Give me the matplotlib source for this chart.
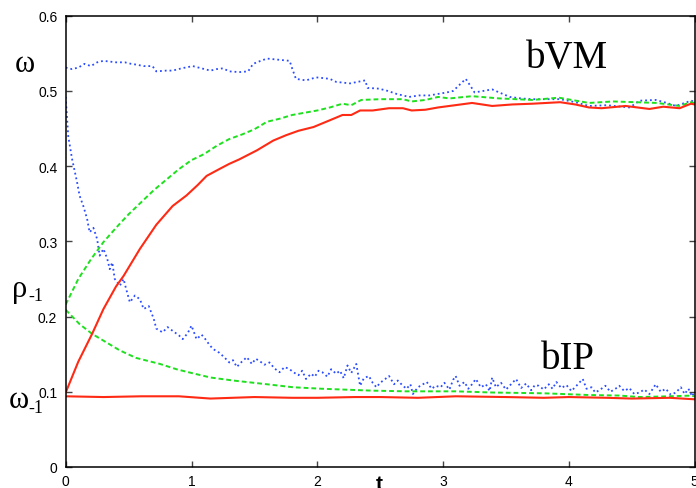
import matplotlib
matplotlib.use("Agg")
import matplotlib.pyplot as plt
import numpy as np

# bVM: omega (blue dotted), rho_-1 (green dashed), omega_-1 (red solid)
vm_w_t = [0.00, 0.05, 0.10, 0.15, 0.20, 0.25, 0.30, 0.35, 0.40, 0.47, 0.52, 0.56, 0.62, 0.69,
          0.72, 0.80, 0.85, 0.92, 1.01, 1.08, 1.15, 1.20, 1.25, 1.30, 1.38, 1.45, 1.49, 1.55,
          1.60, 1.66, 1.72, 1.78, 1.80, 1.83, 1.91, 1.99, 2.05, 2.10, 2.15, 2.26, 2.32, 2.38,
          2.40, 2.49, 2.56, 2.63, 2.73, 2.81, 2.89, 2.96, 3.03, 3.08, 3.13, 3.18, 3.22, 3.25,
          3.32, 3.39, 3.46, 3.53, 3.62, 3.71, 3.82, 3.93, 4.05, 4.16, 4.30, 4.48, 4.52, 4.56,
          4.69, 4.78, 4.85, 4.92, 4.97, 5.00]
vm_w = [0.531, 0.529, 0.531, 0.536, 0.533, 0.538, 0.540, 0.539, 0.538, 0.538, 0.536, 0.535,
        0.533, 0.533, 0.526, 0.527, 0.527, 0.530, 0.533, 0.530, 0.527, 0.529, 0.530, 0.526,
        0.525, 0.526, 0.536, 0.540, 0.543, 0.542, 0.541, 0.540, 0.530, 0.516, 0.514, 0.518,
        0.517, 0.516, 0.512, 0.510, 0.512, 0.514, 0.504, 0.503, 0.500, 0.496, 0.492, 0.494,
        0.494, 0.496, 0.498, 0.500, 0.508, 0.516, 0.506, 0.498, 0.500, 0.502, 0.497, 0.492,
        0.490, 0.489, 0.489, 0.489, 0.485, 0.480, 0.481, 0.478, 0.482, 0.487, 0.488, 0.484,
        0.480, 0.484, 0.487, 0.486]

vm_rho_t = [0.00, 0.10, 0.20, 0.30, 0.40, 0.50, 0.60, 0.70, 0.80, 0.90, 1.00, 1.10, 1.20,
            1.30, 1.40, 1.50, 1.60, 1.70, 1.80, 1.90, 2.00, 2.10, 2.20, 2.27, 2.35, 2.50,
            2.68, 2.75, 2.86, 2.96, 3.05, 3.23, 3.45, 3.71, 3.92, 4.16, 4.35, 4.53, 4.70,
            4.88, 4.97, 5.00]
vm_rho = [0.216, 0.250, 0.276, 0.299, 0.318, 0.336, 0.352, 0.368, 0.382, 0.396, 0.408,
          0.416, 0.427, 0.436, 0.442, 0.449, 0.459, 0.463, 0.468, 0.471, 0.474, 0.478,
          0.483, 0.481, 0.488, 0.489, 0.489, 0.486, 0.488, 0.492, 0.490, 0.493, 0.490,
          0.488, 0.491, 0.484, 0.486, 0.485, 0.484, 0.480, 0.485, 0.484]

vm_w1_t = [0.00, 0.10, 0.21, 0.30, 0.40, 0.46, 0.59, 0.72, 0.85, 0.96, 1.05, 1.12, 1.22,
           1.30, 1.38, 1.52, 1.65, 1.75, 1.85, 1.97, 2.10, 2.20, 2.27, 2.34, 2.44, 2.57,
           2.68, 2.75, 2.86, 2.96, 3.05, 3.23, 3.39, 3.55, 3.71, 3.93, 4.05, 4.16, 4.26,
           4.45, 4.64, 4.75, 4.88, 4.97, 5.00]
vm_w1 = [0.099, 0.140, 0.177, 0.210, 0.240, 0.254, 0.290, 0.322, 0.347, 0.361, 0.375,
         0.387, 0.396, 0.403, 0.409, 0.421, 0.434, 0.441, 0.447, 0.452, 0.461, 0.468,
         0.468, 0.474, 0.474, 0.477, 0.477, 0.474, 0.475, 0.478, 0.480, 0.484, 0.480,
         0.482, 0.483, 0.485, 0.482, 0.478, 0.477, 0.480, 0.476, 0.479, 0.477, 0.483, 0.482]

# bIP
ip_rho_t = [0.00, 0.11, 0.21, 0.30, 0.43, 0.56, 0.75, 0.88, 1.00, 1.15, 1.33, 1.60, 1.81,
            2.04, 2.44, 2.71, 3.10, 3.40, 3.80, 4.16, 4.40, 4.56, 4.80, 4.95, 5.00]
ip_rho = [0.209, 0.190, 0.177, 0.168, 0.155, 0.145, 0.137, 0.130, 0.125, 0.119, 0.115,
          0.110, 0.106, 0.104, 0.1015, 0.1006, 0.1006, 0.099, 0.098, 0.0957, 0.095, 0.093,
          0.094, 0.0948, 0.094]

ip_w1_t = [0.0, 0.3, 0.6, 0.9, 1.15, 1.5, 1.8, 2.0, 2.3, 2.5, 2.8, 3.1, 3.5, 3.8, 4.0, 4.3,
           4.5, 4.8, 5.0]
ip_w1 = [0.094, 0.093, 0.094, 0.094, 0.091, 0.093, 0.092, 0.092, 0.093, 0.093, 0.092,
         0.094, 0.093, 0.092, 0.093, 0.092, 0.091, 0.092, 0.090]

ip_w_t = [0.00, 0.02, 0.05, 0.09, 0.11, 0.14, 0.17, 0.19, 0.22, 0.25, 0.27, 0.30, 0.33,
          0.35, 0.37, 0.39, 0.43, 0.46, 0.48, 0.51, 0.55, 0.59, 0.62, 0.66, 0.70, 0.72,
          0.77, 0.81, 0.85, 0.90, 0.93, 0.97, 1.00, 1.04, 1.08, 1.11, 1.14, 1.17, 1.22,
          1.26, 1.30, 1.33, 1.36, 1.40, 1.44, 1.48, 1.51, 1.54, 1.58, 1.62, 1.66, 1.70,
          1.74, 1.78, 1.81, 1.85, 1.88, 1.91, 1.95, 1.98, 2.01, 2.04, 2.08, 2.11, 2.15,
          2.18, 2.21, 2.24, 2.27, 2.31, 2.34, 2.37, 2.41, 2.44, 2.47, 2.50, 2.54, 2.57,
          2.61, 2.64, 2.68, 2.71, 2.74, 2.76, 2.80, 2.84, 2.87, 2.91, 2.94, 2.98, 3.01,
          3.05, 3.08, 3.10, 3.13, 3.17, 3.20, 3.23, 3.26, 3.30, 3.34, 3.37, 3.39, 3.42,
          3.46, 3.50, 3.54, 3.58, 3.62, 3.66, 3.70, 3.73, 3.76, 3.80, 3.84, 3.87, 3.90,
          3.94, 3.98, 4.02, 4.06, 4.11, 4.14, 4.18, 4.21, 4.25, 4.29, 4.33, 4.37, 4.40,
          4.44, 4.48, 4.52, 4.56, 4.60, 4.64, 4.69, 4.73, 4.77, 4.81, 4.85, 4.89, 4.92,
          4.95, 4.98, 5.00]
ip_w = [0.492, 0.440, 0.410, 0.379, 0.361, 0.347, 0.330, 0.312, 0.318, 0.303, 0.281, 0.290,
        0.277, 0.263, 0.272, 0.250, 0.241, 0.250, 0.237, 0.219, 0.228, 0.223, 0.210, 0.214,
        0.197, 0.184, 0.179, 0.186, 0.181, 0.175, 0.170, 0.178, 0.188, 0.170, 0.176, 0.170,
        0.163, 0.157, 0.152, 0.146, 0.139, 0.142, 0.133, 0.140, 0.146, 0.137, 0.144, 0.141,
        0.136, 0.139, 0.131, 0.126, 0.133, 0.130, 0.126, 0.122, 0.128, 0.117, 0.124, 0.120,
        0.128, 0.126, 0.120, 0.130, 0.124, 0.128, 0.118, 0.135, 0.125, 0.137, 0.108, 0.118,
        0.121, 0.112, 0.106, 0.112, 0.117, 0.121, 0.110, 0.115, 0.108, 0.104, 0.110, 0.097,
        0.106, 0.110, 0.113, 0.104, 0.108, 0.106, 0.112, 0.103, 0.116, 0.121, 0.108, 0.113,
        0.104, 0.110, 0.117, 0.106, 0.110, 0.101, 0.119, 0.106, 0.112, 0.103, 0.110, 0.117,
        0.105, 0.111, 0.102, 0.109, 0.108, 0.103, 0.110, 0.104, 0.113, 0.105, 0.109, 0.101,
        0.108, 0.117, 0.104, 0.106, 0.099, 0.103, 0.108, 0.100, 0.104, 0.108, 0.101, 0.105,
        0.097, 0.099, 0.103, 0.097, 0.110, 0.100, 0.104, 0.096, 0.099, 0.106, 0.097, 0.104,
        0.094, 0.101]

x_ticks = [0, 1, 2, 3, 4, 5]
y_ticks = [0, 0.1, 0.2, 0.3, 0.4, 0.5, 0.6]
y_ticklabels = ["0", "0.1", "0.2", "0.3", "0.4", "0.5", "0.6"]

RED = "#ff2a14"
GREEN = "#1ee01e"
BLUE = "#2a4cff"

plt.rcParams['font.family'] = ['Liberation Sans', 'DejaVu Sans']

W, H = 696, 489
fig = plt.figure(figsize=(W / 100, H / 100), dpi=100)
ax = fig.add_axes([65.7 / W, 21 / H, 629 / W, 451.3 / H])

ax.plot(vm_w_t, vm_w, ':', color=BLUE, lw=1.3)
ax.plot(ip_w_t, ip_w, ':', color=BLUE, lw=1.3)
ax.plot(vm_rho_t, vm_rho, '--', color=GREEN, lw=1.4, dashes=(2.5, 1.5))
ax.plot(ip_rho_t, ip_rho, '--', color=GREEN, lw=1.4, dashes=(2.5, 1.5))
ax.plot(vm_w1_t, vm_w1, '-', color=RED, lw=1.5)
ax.plot(ip_w1_t, ip_w1, '-', color=RED, lw=1.5)

ax.set_xlim(0, 5)
ax.set_ylim(0, 0.6)
ax.set_xticks(x_ticks)
ax.set_yticks(y_ticks)
ax.set_yticklabels(y_ticklabels)
ax.tick_params(direction='in', length=4.5, width=1, color='#444444', labelsize=10,
               top=True, right=True, pad=5)
ax.tick_params(axis='y', pad=6)
for s in ax.spines.values():
    s.set_linewidth(1.1)

serif = ['Liberation Serif', 'DejaVu Serif']
ax.text(3.66, 0.5315, "bVM", family=serif, fontsize=28, va='baseline', ha='left')
ax.text(3.78, 0.131, "bIP", family=serif, fontsize=28, va='baseline', ha='left')

def fx(px):
    return px / W

def fy(py):
    return 1 - py / H

# axis label "t", cut off at the bottom edge like in the original
fig.text(fx(379), fy(490), "t", fontsize=15, fontweight='bold', ha='center', va='baseline')

fig.text(fx(15), fy(72), "\u03c9", family=serif, fontsize=22, va='baseline')
fig.text(fx(12), fy(297), "\u03c1", family=serif, fontsize=22, va='baseline')
fig.text(fx(28), fy(301), "-1", family=serif, fontsize=13, va='baseline')
fig.text(fx(9), fy(408), "\u03c9", family=serif, fontsize=22, va='baseline')
fig.text(fx(28), fy(413), "-1", family=serif, fontsize=13, va='baseline')

fig.savefig("out.png", dpi=100)
